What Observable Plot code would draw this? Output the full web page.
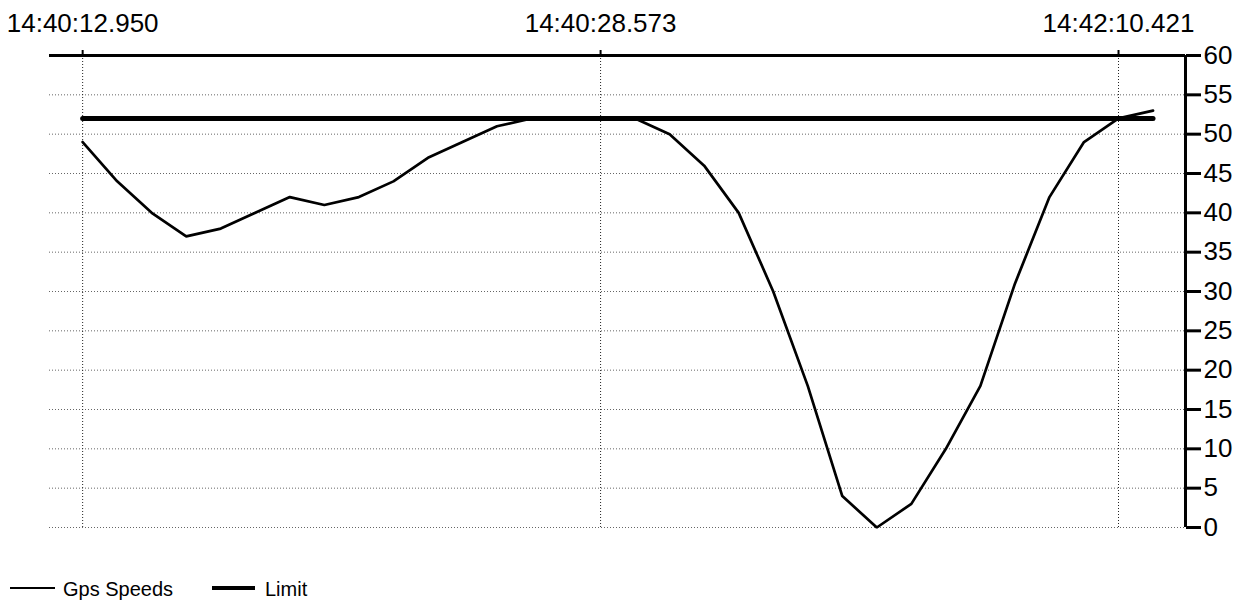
<!DOCTYPE html>
<html>
<head>
<meta charset="utf-8">
<script src="https://cdn.jsdelivr.net/npm/d3@7"></script>
<script src="https://cdn.jsdelivr.net/npm/@observablehq/plot@0.6"></script>
<style>
  body { margin: 0; background: #fff; font-family: "Liberation Sans", Arial, Helvetica, sans-serif; }
  #wrap { position: relative; width: 1239px; height: 602px; }
  #legend { position: absolute; left: 0; top: 568px; width: 1239px; height: 34px; }
  .sw { position: absolute; background: #000; }
  .lt { position: absolute; font-size: 20px; color: #000; line-height: 24px; }
</style>
</head>
<body>
<div id="wrap">
  <div id="chart"></div>
  <div id="legend"></div>
</div>
<script>
// ---- data ----
const gpsSpeeds = [49, 44, 40, 37, 38, 40, 42, 41, 42, 44, 47, 49, 51, 52, 52, 52,
                   52, 50, 46, 40, 30, 18, 4, 0, 3, 10, 18, 31, 42, 49, 52, 53];
const limitValue = 52;
const tickIndices = [0, 15, 30];
const tickLabels = ["14:40:12.950", "14:40:28.573", "14:42:10.421"];
const yTicks = [0, 5, 10, 15, 20, 25, 30, 35, 40, 45, 50, 55, 60];
const seriesNames = ["Gps Speeds", "Limit"];

const gps = gpsSpeeds.map((v, i) => ({ i, v }));
const limit = gpsSpeeds.map((_, i) => ({ i, v: limitValue }));

const xMin = -0.96, xMax = 31.94;

const chart = Plot.plot({
  width: 1239,
  height: 568,
  marginLeft: 49,
  marginRight: 54,
  marginTop: 55,
  marginBottom: 41,
  x: { domain: [xMin, xMax], axis: null },
  y: { domain: [0, 60], axis: null },
  style: { fontFamily: '"Liberation Sans", Arial, Helvetica, sans-serif', background: "#fff", color: "#000", overflow: "visible" },
  marks: [
    Plot.ruleY(yTicks, { stroke: "#666", strokeDasharray: "1,2", strokeWidth: 1 }),
    Plot.ruleX(tickIndices, { y1: 0, y2: 60, stroke: "#222", strokeDasharray: "1,2", strokeWidth: 1 }),
    Plot.ruleY([60], { stroke: "#000", strokeWidth: 3 }),
    Plot.ruleX([xMax], { y1: 0, y2: 60, stroke: "#000", strokeWidth: 3 }),
    Plot.axisX(tickIndices, {
      anchor: "top", label: null, tickSize: 6, tickPadding: 18, strokeWidth: 2,
      tickFormat: d => tickLabels[tickIndices.indexOf(d)],
      fontSize: 26, fill: "#000", stroke: "#000"
    }),
    Plot.axisY(yTicks, {
      anchor: "right", label: null, tickSize: 15, tickPadding: 3, strokeWidth: 3,
      fontSize: 26, fill: "#000", stroke: "#000"
    }),
    Plot.line(limit, { x: "i", y: "v", stroke: "#000", strokeWidth: 5 }),
    Plot.line(gps, { x: "i", y: "v", stroke: "#000", strokeWidth: 2.7, strokeLinejoin: "miter" })
  ]
});
document.getElementById("chart").appendChild(chart);

// ---- legend ----
const legend = document.getElementById("legend");
const items = [
  { name: seriesNames[0], sx: 10, sw: 45, th: 2.5, tx: 63 },
  { name: seriesNames[1], sx: 212, sw: 43, th: 4, tx: 265 }
];
for (const it of items) {
  const s = document.createElement("div");
  s.className = "sw";
  s.style.left = it.sx + "px";
  s.style.width = it.sw + "px";
  s.style.height = it.th + "px";
  s.style.top = (20 - it.th / 2) + "px";
  legend.appendChild(s);
  const t = document.createElement("div");
  t.className = "lt";
  t.style.left = it.tx + "px";
  t.style.top = "9px";
  t.textContent = it.name;
  legend.appendChild(t);
}
</script>
</body>
</html>
